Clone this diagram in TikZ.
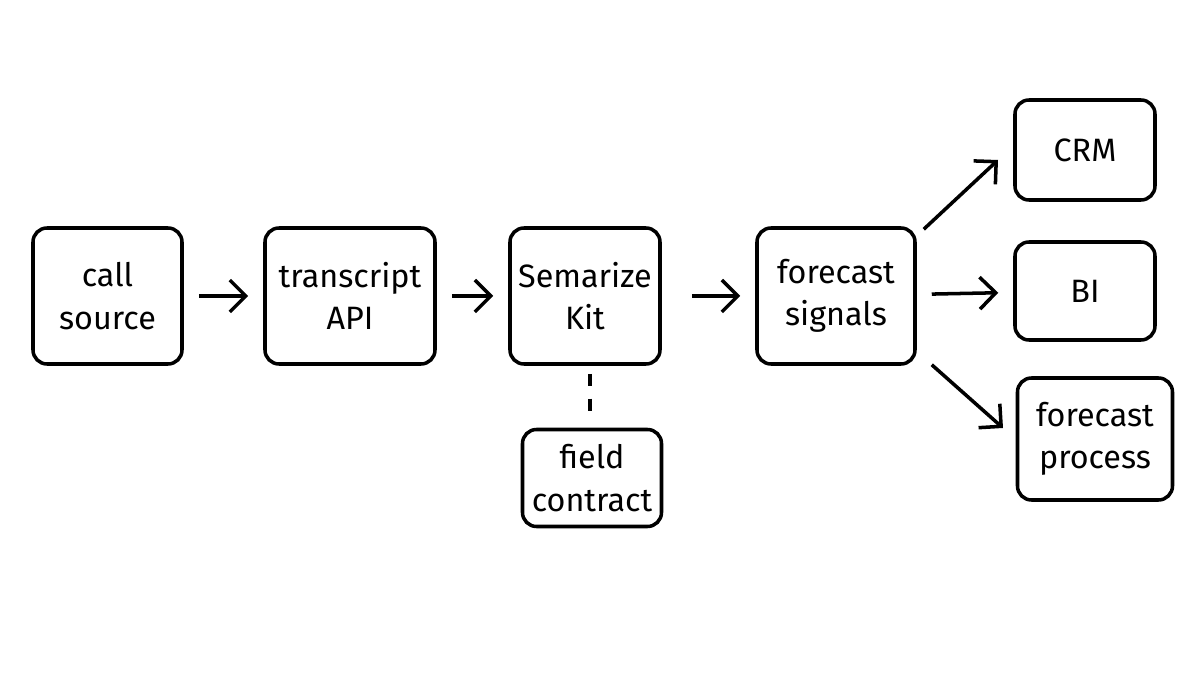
\documentclass[tikz,border=0pt]{standalone}
\usepackage{fontspec}
\setmainfont{Fira Sans}
\usetikzlibrary{arrows.meta, positioning}

\begin{document}
\begin{tikzpicture}[every node/.style = {font=\fontsize{9.2}{12}\selectfont, align=center},
        box/.style = {draw, line width=1pt, rounded corners=0.14cm, inner sep=0pt},
        flow/.style = {line width=1pt, -{Straight Barb[length=1.6mm, width=3.2mm]}}]
        \useasboundingbox (0, 0) rectangle (12, 6.75);

        \node[box, minimum width=1.49cm, minimum height=1.36cm] (Ncall) at (1.075, 3.79) {call\\source};
        \node[box, minimum width=1.70cm, minimum height=1.36cm] (Ntrans) at (3.50, 3.79) {transcript\\API};
        \node[box, minimum width=1.50cm, minimum height=1.36cm] (Nkit) at (5.85, 3.79) {Semarize\\Kit};
        \node[box, minimum width=1.58cm, minimum height=1.36cm] (Nsig) at (8.36, 3.79) {forecast\\signals};
        \node[box, minimum width=1.39cm, minimum height=0.97cm] (Nfield) at (5.92, 1.97) {field\\contract};

        \node[box, minimum width=1.40cm, minimum height=1.00cm] (Ncrm) at (10.85, 5.25) {CRM};
        \node[box, minimum width=1.40cm, minimum height=0.98cm] (Nbi) at (10.85, 3.84) {BI};
        \node[box, minimum width=1.55cm, minimum height=1.22cm] (Nproc) at (10.95, 2.36) {forecast\\process};

        \draw [flow, shorten <=0.15cm, shorten >=0.15cm] (Ncall) -- (Ntrans);
        \draw [flow, shorten <=0.15cm, shorten >=0.15cm] (Ntrans) -- (Nkit);
        \draw [flow, shorten <=0.3cm, shorten >=0.15cm] (Nkit) -- (Nsig);
        \draw [flow, shorten <=0.15cm, shorten >=0.15cm] (Nsig) -- (Nbi);
        \draw [flow] (Nsig.north east) ++(0.07, -0.03) coordinate (Ca) -- (9.98, 5.15);
        \draw [flow] (Nsig.south east) ++(0.15, 0.01) coordinate (Cb) -- (10.03, 2.47);
        \draw [line width=1pt, dash pattern=on 3.5pt off 3.5pt, shorten <=0.1cm, shorten >=0.08cm] (5.90, 3.11) -- (Nfield.north -| 5.90, 0);
\end{tikzpicture}
\end{document}
